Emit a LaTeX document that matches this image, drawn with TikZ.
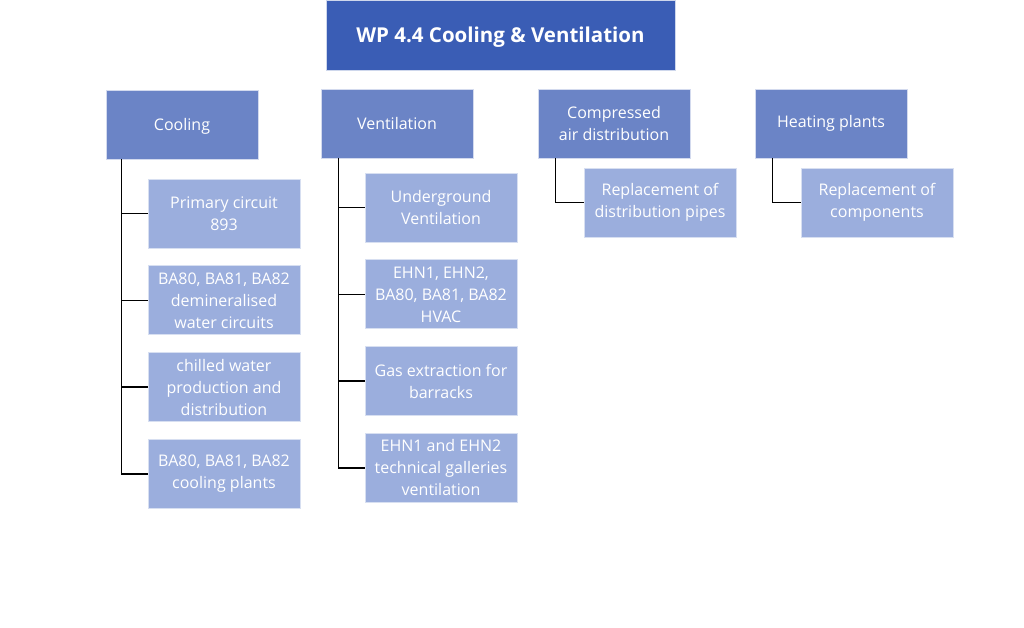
\documentclass[tikz,border=0pt]{standalone}
\usepackage{fontspec}
\setmainfont{Open Sans}
\usetikzlibrary{positioning}
\definecolor{wpblue}{RGB}{58,93,181}
\definecolor{midblue}{RGB}{107,132,198}
\definecolor{lightblue}{RGB}{155,174,221}

\begin{document}
\begin{tikzpicture}[x=1pt, y=-1pt,
    wpbox/.style={rectangle, fill=wpblue, draw=white!75!wpblue, line width=0.8pt, text=white,
      minimum width=349pt, minimum height=70pt, text depth=0pt, font=\fontsize{20.5}{24}\selectfont\bfseries},
    groupbox/.style={rectangle, fill=midblue, draw=white!70!midblue, line width=0.8pt, text=white,
      minimum width=152pt, minimum height=69pt, align=center, font=\fontsize{16}{22}\selectfont},
    itembox/.style={rectangle, fill=lightblue, draw=white!60!lightblue, line width=0.8pt, text=white,
      minimum width=152pt, minimum height=69pt, align=center, font=\fontsize{16}{22}\selectfont},
    link/.style={draw=black, line width=1.6pt}]
    \useasboundingbox (0,0) rectangle (1024,627);
    \node [wpbox] (wp) at (500.5,35) {WP 4.4 Cooling \& Ventilation};
    % level 2
    \node [groupbox, text depth=0pt] (cool) at (182,124.5) {Cooling};
    \node [groupbox] (vent) at (397,123.5) {Ventilation};
    \node [groupbox] (air) at (614,123.5) {Compressed\\air distribution};
    \node [groupbox] (heat) at (831,123.5) {Heating plants};
    % cooling items
    \node [itembox] (cool1) at (224,213.5) {Primary circuit\\893};
    \node [itembox, below=17pt of cool1] (cool2) {BA80, BA81, BA82\\demineralised\\water circuits};
    \node [itembox, below=17pt of cool2] (cool3) {chilled water\\production and\\distribution};
    \node [itembox, below=17pt of cool3] (cool4) {BA80, BA81, BA82\\cooling plants};
    % ventilation items
    \node [itembox] (vent1) at (441,207.5) {Underground\\Ventilation};
    \node [itembox, below=17pt of vent1] (vent2) {EHN1, EHN2,\\BA80, BA81, BA82\\HVAC};
    \node [itembox, below=17pt of vent2] (vent3) {Gas extraction for\\barracks};
    \node [itembox, below=17pt of vent3] (vent4) {EHN1 and EHN2\\technical galleries\\ventilation};
    % single items
    \node [itembox] (air1) at (660,202.5) {Replacement of\\distribution pipes};
    \node [itembox] (heat1) at (877,202.5) {Replacement of\\components};
    % connectors
    \draw [link] ([xshift=16pt]cool.south west) |- (cool4.west);
    \foreach \n in {cool1,cool2,cool3}
      \draw [link] ([xshift=16pt]cool.south west |- \n.west) -- (\n.west);
    \draw [link] ([xshift=18pt]vent.south west) |- (vent4.west);
    \foreach \n in {vent1,vent2,vent3}
      \draw [link] ([xshift=18pt]vent.south west |- \n.west) -- (\n.west);
    \draw [link] ([xshift=18pt]air.south west) |- (air1.west);
    \draw [link] ([xshift=18pt]heat.south west) |- (heat1.west);
\end{tikzpicture}
\end{document}
